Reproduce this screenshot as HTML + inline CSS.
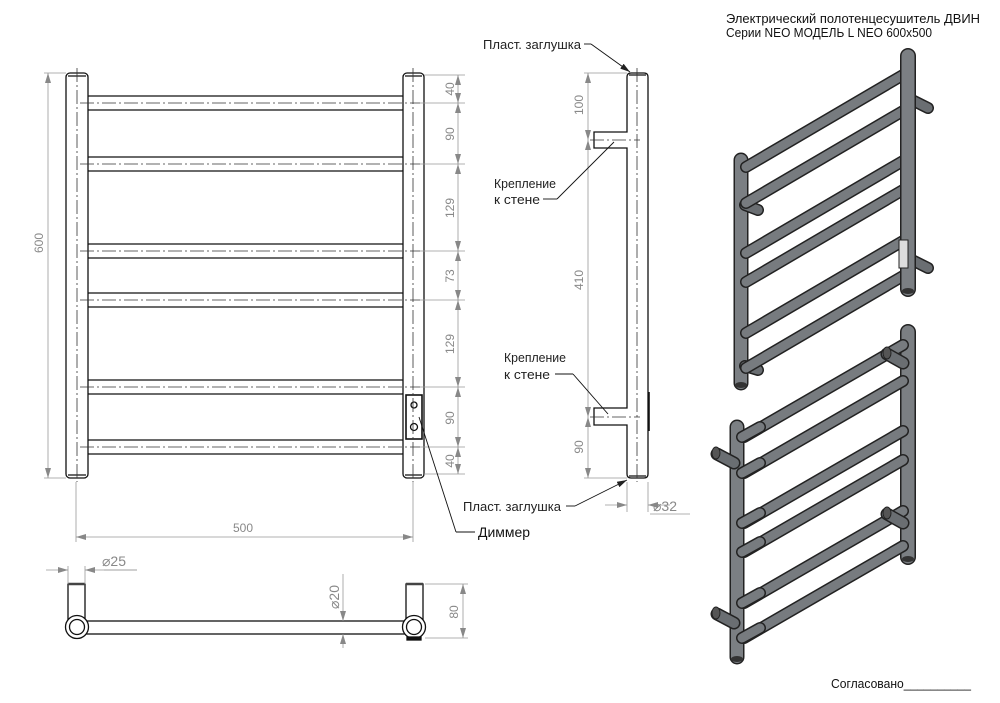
<!DOCTYPE html>
<html><head><meta charset="utf-8"><style>
html,body{margin:0;padding:0;background:#fff;}
svg{display:block;}
text{font-family:"Liberation Sans Narrow","Liberation Sans",sans-serif;}
.d{fill:#888;font-size:12px;}
.k{fill:#222;font-size:13px;}
</style></head><body>
<svg width="1000" height="703" viewBox="0 0 1000 703" xmlns="http://www.w3.org/2000/svg">
<defs>
<marker id="a" viewBox="0 0 10 6" refX="10" refY="3" markerWidth="10" markerHeight="6" orient="auto-start-reverse" markerUnits="userSpaceOnUse"><path d="M0,0 L10,3 L0,6 Z" fill="#888"/></marker>
<marker id="b" viewBox="0 0 10 6" refX="10" refY="3" markerWidth="10" markerHeight="6" orient="auto" markerUnits="userSpaceOnUse"><path d="M0,0 L10,3 L0,6 Z" fill="#222"/></marker>
</defs>

<!-- ===== FRONT VIEW ===== -->
<g fill="none" stroke="#111" stroke-width="1.3">
  <g>
    <rect x="86" y="96" width="319" height="14" rx="3" fill="#fff"/>
    <rect x="86" y="157" width="319" height="14" rx="3" fill="#fff"/>
    <rect x="86" y="244" width="319" height="14" rx="3" fill="#fff"/>
    <rect x="86" y="293" width="319" height="14" rx="3" fill="#fff"/>
    <rect x="86" y="380" width="319" height="14" rx="3" fill="#fff"/>
    <rect x="86" y="440" width="319" height="14" rx="3" fill="#fff"/>
  </g>
  <rect x="66" y="73" width="22" height="405" rx="4" fill="#fff"/>
  <rect x="403" y="73" width="21" height="405" rx="4" fill="#fff"/>
  <line x1="68" y1="76" x2="86" y2="76"/>
  <line x1="405" y1="76" x2="422" y2="76"/>
  <line x1="68" y1="475" x2="86" y2="475"/>
  <line x1="405" y1="475" x2="422" y2="475"/>
  <rect x="406" y="395" width="16" height="44" stroke-width="1.6" fill="#fff"/>
  <circle cx="414" cy="405" r="3"/>
  <circle cx="414" cy="427" r="3.5"/>
</g>
<g stroke="#333" stroke-width="0.8" stroke-dasharray="14,3,2,3" fill="none">
  <line x1="80" y1="103" x2="420" y2="103"/>
  <line x1="80" y1="164" x2="420" y2="164"/>
  <line x1="80" y1="251" x2="420" y2="251"/>
  <line x1="80" y1="300" x2="420" y2="300"/>
  <line x1="80" y1="387" x2="420" y2="387"/>
  <line x1="80" y1="447" x2="420" y2="447"/>
  <line x1="77" y1="68" x2="77" y2="482"/>
  <line x1="413" y1="68" x2="413" y2="482"/>
</g>
<g stroke="#999" stroke-width="0.8" fill="none">
  <line x1="44" y1="73" x2="66" y2="73"/>
  <line x1="44" y1="478" x2="66" y2="478"/>
  <line x1="48" y1="73" x2="48" y2="478" marker-start="url(#a)" marker-end="url(#a)"/>
  <line x1="424" y1="75" x2="465" y2="75"/>
  <line x1="420" y1="103" x2="465" y2="103"/>
  <line x1="420" y1="164" x2="465" y2="164"/>
  <line x1="420" y1="251" x2="465" y2="251"/>
  <line x1="420" y1="300" x2="465" y2="300"/>
  <line x1="420" y1="387" x2="465" y2="387"/>
  <line x1="420" y1="447" x2="465" y2="447"/>
  <line x1="424" y1="474" x2="465" y2="474"/>
  <line x1="458" y1="75" x2="458" y2="103" marker-start="url(#a)" marker-end="url(#a)"/>
  <line x1="458" y1="103" x2="458" y2="164" marker-start="url(#a)" marker-end="url(#a)"/>
  <line x1="458" y1="164" x2="458" y2="251" marker-start="url(#a)" marker-end="url(#a)"/>
  <line x1="458" y1="251" x2="458" y2="300" marker-start="url(#a)" marker-end="url(#a)"/>
  <line x1="458" y1="300" x2="458" y2="387" marker-start="url(#a)" marker-end="url(#a)"/>
  <line x1="458" y1="387" x2="458" y2="447" marker-start="url(#a)" marker-end="url(#a)"/>
  <line x1="458" y1="447" x2="458" y2="474" marker-start="url(#a)" marker-end="url(#a)"/>
  <line x1="76" y1="482" x2="76" y2="542"/>
  <line x1="413" y1="482" x2="413" y2="542"/>
  <line x1="76" y1="537" x2="413" y2="537" marker-start="url(#a)" marker-end="url(#a)"/>
</g>
<g class="d">
  <text transform="translate(454,89) rotate(-90)" text-anchor="middle">40</text>
  <text transform="translate(43,243) rotate(-90)" text-anchor="middle">600</text>
  <text transform="translate(454,134) rotate(-90)" text-anchor="middle">90</text>
  <text transform="translate(454,208) rotate(-90)" text-anchor="middle">129</text>
  <text transform="translate(454,276) rotate(-90)" text-anchor="middle">73</text>
  <text transform="translate(454,344) rotate(-90)" text-anchor="middle">129</text>
  <text transform="translate(454,418) rotate(-90)" text-anchor="middle">90</text>
  <text transform="translate(454,461) rotate(-90)" text-anchor="middle">40</text>
  <text x="243" y="532" text-anchor="middle">500</text>
</g>
<g stroke="#111" stroke-width="0.9" fill="none">
  <line x1="419" y1="417" x2="456" y2="532"/>
  <line x1="456" y1="532" x2="475" y2="532"/>
</g>
<text x="478" y="537" font-size="14" fill="#111" textLength="52" lengthAdjust="spacingAndGlyphs" style="font-family:'Liberation Sans',sans-serif">Диммер</text>

<!-- ===== SIDE VIEW ===== -->
<g fill="#fff" stroke="#111" stroke-width="1.3">
  <path d="M627,77 Q627,73 631,73 L644,73 Q648,73 648,77 L648,474 Q648,478 644,478 L631,478 Q627,478 627,474 L627,425 L594,425 L594,408 L627,408 L627,148 L594,148 L594,132 L627,132 Z"/>
  <line x1="629" y1="476" x2="646" y2="476"/>
  <line x1="629" y1="75" x2="646" y2="75"/>
  <line x1="649" y1="392" x2="649" y2="431" stroke-width="1.6"/>
</g>
<g stroke="#333" stroke-width="0.8" stroke-dasharray="14,3,2,3" fill="none">
  <line x1="637" y1="68" x2="637" y2="482"/>
  <line x1="590" y1="140" x2="640" y2="140"/>
  <line x1="590" y1="417" x2="640" y2="417"/>
</g>
<g stroke="#999" stroke-width="0.8" fill="none">
  <line x1="584" y1="73" x2="627" y2="73"/>
  <line x1="584" y1="478" x2="627" y2="478"/>
  <line x1="588" y1="73" x2="588" y2="140" marker-start="url(#a)" marker-end="url(#a)"/>
  <line x1="588" y1="140" x2="588" y2="417" marker-start="url(#a)" marker-end="url(#a)"/>
  <line x1="588" y1="417" x2="588" y2="478" marker-start="url(#a)" marker-end="url(#a)"/>
  <line x1="627" y1="482" x2="627" y2="512"/>
  <line x1="648" y1="482" x2="648" y2="512"/>
  <line x1="605" y1="505" x2="627" y2="505" marker-end="url(#a)"/>
  <line x1="670" y1="505" x2="648" y2="505" marker-end="url(#a)"/>
  <line x1="650" y1="514" x2="690" y2="514"/>
</g>
<g class="d">
  <text transform="translate(583,105) rotate(-90)" text-anchor="middle">100</text>
  <text transform="translate(583,280) rotate(-90)" text-anchor="middle">410</text>
  <text transform="translate(583,447) rotate(-90)" text-anchor="middle">90</text>
  <text x="653" y="511" font-size="14">⌀32</text>
</g>
<g stroke="#111" stroke-width="0.9" fill="none">
  <line x1="584" y1="44" x2="591" y2="44"/>
  <line x1="591" y1="44" x2="630" y2="72" marker-end="url(#b)"/>
  <line x1="566" y1="506" x2="575" y2="506"/>
  <line x1="575" y1="506" x2="627" y2="480" marker-end="url(#b)"/>
  <line x1="543" y1="199" x2="557" y2="199"/>
  <line x1="557" y1="199" x2="614" y2="142"/>
  <line x1="555" y1="374" x2="573" y2="374"/>
  <line x1="573" y1="374" x2="608" y2="414"/>
</g>
<g class="k">
  <text x="483" y="49" textLength="98" lengthAdjust="spacingAndGlyphs">Пласт. заглушка</text>
  <text x="463" y="511" textLength="98" lengthAdjust="spacingAndGlyphs">Пласт. заглушка</text>
  <text x="494" y="188" textLength="62" lengthAdjust="spacingAndGlyphs">Крепление</text>
  <text x="494" y="204" textLength="46" lengthAdjust="spacingAndGlyphs">к стене</text>
  <text x="504" y="362" textLength="62" lengthAdjust="spacingAndGlyphs">Крепление</text>
  <text x="504" y="379" textLength="46" lengthAdjust="spacingAndGlyphs">к стене</text>
</g>

<!-- ===== TOP VIEW ===== -->
<g fill="#fff" stroke="#111" stroke-width="1.3">
  <rect x="86" y="621" width="320" height="13"/>
  <rect x="68" y="584" width="17" height="36"/>
  <rect x="406" y="584" width="17" height="36"/>
  <line x1="68" y1="584" x2="85" y2="584" stroke-width="2.5" stroke="#444"/>
  <line x1="406" y1="584" x2="423" y2="584" stroke-width="2.5" stroke="#444"/>
  <circle cx="77" cy="627" r="11.5"/>
  <circle cx="77" cy="627" r="7.5"/>
  <circle cx="414" cy="627" r="11.5"/>
  <circle cx="414" cy="627" r="7.5"/>
  <rect x="407" y="637" width="14" height="3" fill="#111"/>
</g>
<g stroke="#999" stroke-width="0.8" fill="none">
  <line x1="68" y1="566" x2="68" y2="584"/>
  <line x1="85" y1="566" x2="85" y2="584"/>
  <line x1="46" y1="570" x2="68" y2="570" marker-end="url(#a)"/>
  <line x1="137" y1="570" x2="85" y2="570" marker-end="url(#a)"/>
  <line x1="104" y1="570" x2="137" y2="570"/>
  <line x1="343" y1="574" x2="343" y2="621" marker-end="url(#a)"/>
  <line x1="343" y1="648" x2="343" y2="634" marker-end="url(#a)"/>
  <line x1="425" y1="584" x2="468" y2="584"/>
  <line x1="425" y1="638" x2="468" y2="638"/>
  <line x1="463" y1="584" x2="463" y2="638" marker-start="url(#a)" marker-end="url(#a)"/>
</g>
<g class="d">
  <text x="102" y="566" font-size="14">⌀25</text>
  <text transform="translate(339,597) rotate(-90)" text-anchor="middle" font-size="14">⌀20</text>
  <text transform="translate(458,612) rotate(-90)" text-anchor="middle">80</text>
</g>

<!-- ===== 3D VIEWS ===== -->
<g stroke-linecap="round">
  <g>
    <line x1="741" y1="160" x2="741" y2="383" stroke="#222" stroke-width="15"/>
    <line x1="741" y1="160" x2="741" y2="383" stroke="#7b7f83" stroke-width="12"/>
    <line x1="745" y1="205" x2="758" y2="210" stroke="#222" stroke-width="12"/>
    <line x1="745" y1="205" x2="758" y2="210" stroke="#6a6e72" stroke-width="9"/>
    <line x1="745" y1="366" x2="758" y2="370" stroke="#222" stroke-width="12"/>
    <line x1="745" y1="366" x2="758" y2="370" stroke="#6a6e72" stroke-width="9"/>
    <g stroke="#222" stroke-width="12">
      <line x1="746" y1="167" x2="903" y2="75"/><line x1="746" y1="203" x2="903" y2="111"/>
      <line x1="746" y1="253" x2="903" y2="161"/><line x1="746" y1="282" x2="903" y2="190"/>
      <line x1="746" y1="333" x2="903" y2="241"/><line x1="746" y1="368" x2="903" y2="276"/>
    </g>
    <g stroke="#777b7f" stroke-width="9">
      <line x1="746" y1="167" x2="903" y2="75"/><line x1="746" y1="203" x2="903" y2="111"/>
      <line x1="746" y1="253" x2="903" y2="161"/><line x1="746" y1="282" x2="903" y2="190"/>
      <line x1="746" y1="333" x2="903" y2="241"/><line x1="746" y1="368" x2="903" y2="276"/>
    </g>
    <line x1="912" y1="100" x2="928" y2="108" stroke="#222" stroke-width="12"/>
    <line x1="912" y1="100" x2="928" y2="108" stroke="#6a6e72" stroke-width="9"/>
    <line x1="912" y1="260" x2="928" y2="268" stroke="#222" stroke-width="12"/>
    <line x1="912" y1="260" x2="928" y2="268" stroke="#6a6e72" stroke-width="9"/>
    <line x1="908" y1="56" x2="908" y2="289" stroke="#222" stroke-width="16"/>
    <line x1="908" y1="56" x2="908" y2="289" stroke="#7b7f83" stroke-width="13"/>
    <rect x="899" y="240" width="9" height="28" fill="#ddd" stroke="#222"/>
    <ellipse cx="908" cy="291" rx="6" ry="3" fill="#333"/>
    <ellipse cx="741" cy="385" rx="6" ry="3" fill="#333"/>
  </g>
  <g>
    <line x1="908" y1="332" x2="908" y2="557" stroke="#222" stroke-width="16"/>
    <line x1="908" y1="332" x2="908" y2="557" stroke="#7b7f83" stroke-width="13"/>
    <g stroke="#222" stroke-width="12">
      <line x1="744" y1="437" x2="903" y2="345"/><line x1="744" y1="473" x2="903" y2="381"/>
      <line x1="744" y1="523" x2="903" y2="431"/><line x1="744" y1="552" x2="903" y2="460"/>
      <line x1="744" y1="603" x2="903" y2="511"/><line x1="744" y1="638" x2="903" y2="546"/>
    </g>
    <g stroke="#777b7f" stroke-width="9">
      <line x1="744" y1="437" x2="903" y2="345"/><line x1="744" y1="473" x2="903" y2="381"/>
      <line x1="744" y1="523" x2="903" y2="431"/><line x1="744" y1="552" x2="903" y2="460"/>
      <line x1="744" y1="603" x2="903" y2="511"/><line x1="744" y1="638" x2="903" y2="546"/>
    </g>
    <line x1="887" y1="354" x2="903" y2="363" stroke="#222" stroke-width="13"/>
    <line x1="887" y1="354" x2="903" y2="363" stroke="#6a6e72" stroke-width="10"/>
    <ellipse cx="887" cy="353" rx="4" ry="6" fill="#555" stroke="#222"/>
    <line x1="887" y1="514" x2="903" y2="523" stroke="#222" stroke-width="13"/>
    <line x1="887" y1="514" x2="903" y2="523" stroke="#6a6e72" stroke-width="10"/>
    <ellipse cx="887" cy="513" rx="4" ry="6" fill="#555" stroke="#222"/>
    <line x1="737" y1="427" x2="737" y2="657" stroke="#222" stroke-width="15"/>
    <line x1="737" y1="427" x2="737" y2="657" stroke="#7b7f83" stroke-width="12"/>
    <g stroke="#222" stroke-width="12">
      <line x1="742" y1="437" x2="760" y2="427"/><line x1="742" y1="473" x2="760" y2="463"/>
      <line x1="742" y1="523" x2="760" y2="513"/><line x1="742" y1="552" x2="760" y2="542"/>
      <line x1="742" y1="603" x2="760" y2="593"/><line x1="742" y1="638" x2="760" y2="628"/>
    </g>
    <g stroke="#777b7f" stroke-width="9">
      <line x1="742" y1="437" x2="760" y2="427"/><line x1="742" y1="473" x2="760" y2="463"/>
      <line x1="742" y1="523" x2="760" y2="513"/><line x1="742" y1="552" x2="760" y2="542"/>
      <line x1="742" y1="603" x2="760" y2="593"/><line x1="742" y1="638" x2="760" y2="628"/>
    </g>
    <line x1="717" y1="454" x2="734" y2="463" stroke="#222" stroke-width="13"/>
    <line x1="717" y1="454" x2="734" y2="463" stroke="#6a6e72" stroke-width="10"/>
    <ellipse cx="716" cy="453" rx="4" ry="6" fill="#555" stroke="#222"/>
    <line x1="717" y1="614" x2="734" y2="623" stroke="#222" stroke-width="13"/>
    <line x1="717" y1="614" x2="734" y2="623" stroke="#6a6e72" stroke-width="10"/>
    <ellipse cx="716" cy="613" rx="4" ry="6" fill="#555" stroke="#222"/>
    <ellipse cx="908" cy="559" rx="6" ry="3" fill="#333"/>
    <ellipse cx="737" cy="659" rx="6" ry="3" fill="#333"/>
  </g>
</g>

<g fill="#111" font-size="13">
  <text x="726" y="23" textLength="254" lengthAdjust="spacingAndGlyphs">Электрический полотенцесушитель ДВИН</text>
  <text x="726" y="37" textLength="206" lengthAdjust="spacingAndGlyphs">Серии NEO МОДЕЛЬ L NEO 600x500</text>
  <text x="831" y="688" textLength="140" lengthAdjust="spacingAndGlyphs">Согласовано__________</text>
</g>
</svg>
</body></html>
